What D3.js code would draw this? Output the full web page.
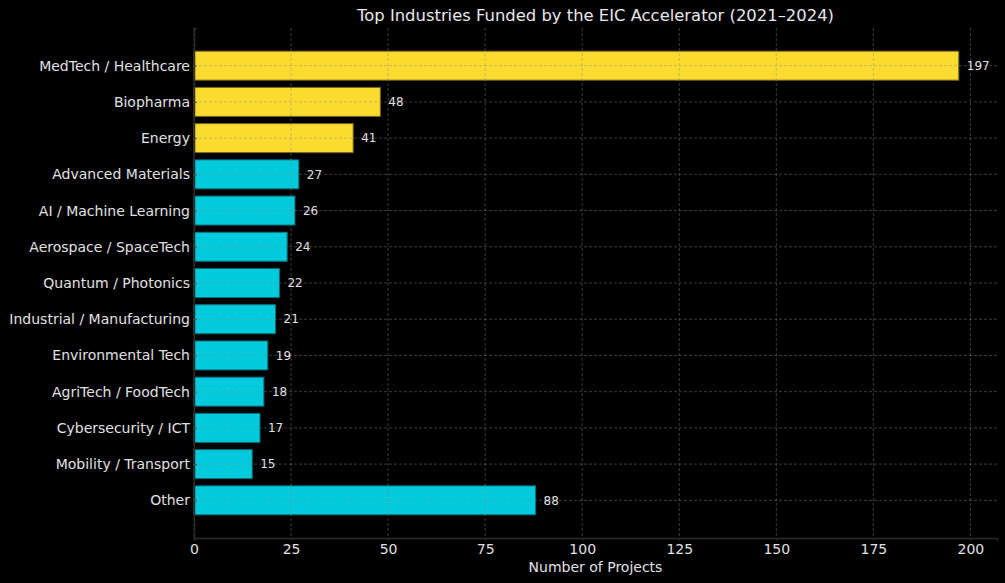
<!DOCTYPE html>
<html>
<head>
<meta charset="utf-8">
<script src="https://cdn.jsdelivr.net/npm/d3@7"></script>
<style>
  body { margin: 0; background: #000; }
  svg { display: block; }
  text { font-family: "DejaVu Sans", sans-serif; }
</style>
</head>
<body>
<div class="chart"></div>
<script>
// data
var industries = ["MedTech / Healthcare", "Biopharma", "Energy", "Advanced Materials",
  "AI / Machine Learning", "Aerospace / SpaceTech", "Quantum / Photonics",
  "Industrial / Manufacturing", "Environmental Tech", "AgriTech / FoodTech",
  "Cybersecurity / ICT", "Mobility / Transport", "Other"];
var projects = [197, 48, 41, 27, 26, 24, 22, 21, 19, 18, 17, 15, 88];
var highlighted = ["MedTech / Healthcare", "Biopharma", "Energy"];
var xTicks = [0, 25, 50, 75, 100, 125, 150, 175, 200];

var title = "Top Industries Funded by the EIC Accelerator (2021\u20132024)";
var xLabel = "Number of Projects";

function drawChart() {
  var W = 1005, H = 583;
  var margin = {top: 28, right: 8, bottom: 45, left: 194};
  var width = W - margin.left - margin.right,
      height = H - margin.top - margin.bottom;

  var svg = d3.select("div.chart").append("svg")
    .attr("width", W)
    .attr("height", H)
    .style("background", "#000");

  var g = svg.append("g")
    .attr("transform", "translate(" + margin.left + "," + margin.top + ")");

  var xMax = d3.max(projects) * 1.05;
  var x = d3.scaleLinear().domain([0, xMax]).range([0, width]);

  // category index scale, matplotlib-like 5% padding around bars
  var n = industries.length;
  var pad = 0.05 * (n - 1 + 0.8);
  var yIdx = d3.scaleLinear().domain([-0.4 - pad, n - 1 + 0.4 + pad]).range([0, height]);
  var barH = yIdx(0.8) - yIdx(0);

  // bars
  g.selectAll(".bar")
    .data(industries)
    .enter().append("rect")
    .attr("class", "bar")
    .attr("x", x(0))
    .attr("y", function(d, i) { return yIdx(i - 0.4); })
    .attr("width", function(d, i) { return x(projects[i]) - x(0); })
    .attr("height", barH)
    .attr("fill", function(d) { return highlighted.indexOf(d) >= 0 ? "#fbdb2e" : "#00cadb"; })
    .attr("stroke", function(d) { return highlighted.indexOf(d) >= 0 ? "#7a6a16" : "#00707a"; })
    .attr("stroke-width", 1);

  // grid on top of bars
  var grid = g.append("g").attr("class", "grid");
  grid.selectAll(".vgrid")
    .data(xTicks)
    .enter().append("line")
    .attr("x1", function(d) { return x(d); })
    .attr("x2", function(d) { return x(d); })
    .attr("y1", 0)
    .attr("y2", height);
  grid.selectAll(".hgrid")
    .data(industries)
    .enter().append("line")
    .attr("x1", 0)
    .attr("x2", width)
    .attr("y1", function(d, i) { return yIdx(i); })
    .attr("y2", function(d, i) { return yIdx(i); });
  grid.selectAll("line")
    .attr("stroke", "#8a8a8a")
    .attr("stroke-opacity", 0.55)
    .attr("stroke-width", 0.8)
    .attr("stroke-dasharray", "3,2");

  // value labels
  g.selectAll(".val")
    .data(industries)
    .enter().append("text")
    .attr("class", "val")
    .attr("x", function(d, i) { return x(projects[i]) + 8; })
    .attr("y", function(d, i) { return yIdx(i); })
    .attr("dy", "0.35em")
    .attr("font-size", 12)
    .attr("fill", "#e0e0e0")
    .text(function(d, i) { return projects[i]; });

  // axes
  var xAxis = g.append("g")
    .attr("transform", "translate(0," + height + ")")
    .call(d3.axisBottom(x).tickValues(xTicks).tickSize(3).tickPadding(3));
  xAxis.select(".domain").attr("stroke", "#2a2a2a").attr("stroke-width", 1.5);
  xAxis.selectAll(".tick line").attr("stroke", "#2a2a2a");
  xAxis.selectAll(".tick text").attr("fill", "#e0e0e0").attr("font-size", 14)
    .attr("font-family", "DejaVu Sans, sans-serif");

  var yAxis = g.append("g")
    .call(d3.axisLeft(yIdx).tickValues(d3.range(n)).tickSize(-3).tickPadding(4)
      .tickFormat(function(i) { return industries[i]; }));
  yAxis.select(".domain").attr("stroke", "#2a2a2a").attr("stroke-width", 1.5);
  yAxis.selectAll(".tick line").attr("stroke", "#555");
  yAxis.selectAll(".tick text").attr("fill", "#e0e0e0").attr("font-size", 14)
    .attr("font-family", "DejaVu Sans, sans-serif");

  // title and axis label
  svg.append("text")
    .attr("x", margin.left + width / 2)
    .attr("y", 21)
    .attr("text-anchor", "middle")
    .attr("font-size", 16.4)
    .attr("fill", "#e8e8e8")
    .text(title);

  svg.append("text")
    .attr("x", margin.left + width / 2)
    .attr("y", 572)
    .attr("text-anchor", "middle")
    .attr("font-size", 14)
    .attr("fill", "#e0e0e0")
    .text(xLabel);
}

drawChart();
</script>
</body>
</html>
